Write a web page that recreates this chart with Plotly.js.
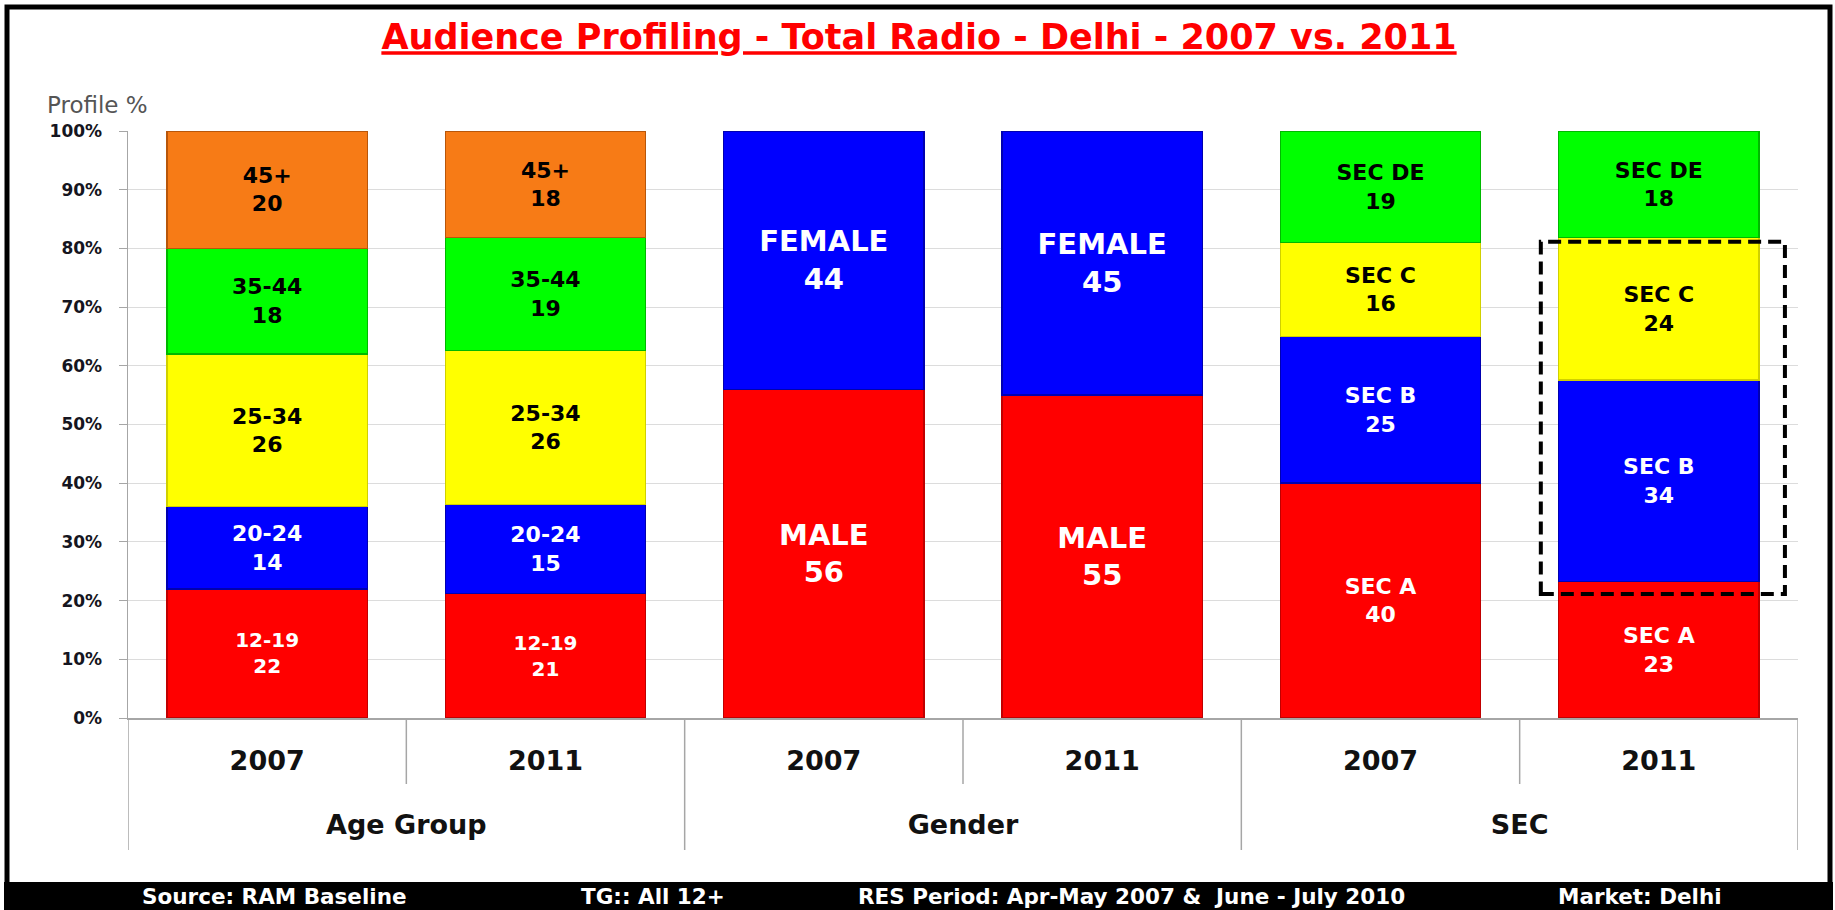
<!DOCTYPE html>
<html>
<head>
<meta charset="utf-8">
<script src="https://cdn.plot.ly/plotly-3.0.1.min.js"></script>
<style>
  html, body { margin: 0; padding: 0; background: #ffffff; }
  #chart { width: 1835px; height: 910px; }
</style>
</head>
<body>
<div id="chart"></div>
<script>
// ---------------- DATA ----------------
const groups = ['Age Group', 'Age Group', 'Gender', 'Gender', 'SEC', 'SEC'];
const years = ['2007', '2011', '2007', '2011', '2007', '2011'];

const ageBands = ['12-19', '20-24', '25-34', '35-44', '45+'];
const age2007 = [22, 14, 26, 18, 20];
const age2011 = [21, 15, 26, 19, 18];

const genderBands = ['MALE', 'FEMALE'];
const gender2007 = [56, 44];
const gender2011 = [55, 45];

const secBands = ['SEC A', 'SEC B', 'SEC C', 'SEC DE'];
const sec2007 = [40, 25, 16, 19];
const sec2011 = [23, 34, 24, 18];

const yTickValues = [0, 10, 20, 30, 40, 50, 60, 70, 80, 90, 100];
const yTickLabels = ['0%', '10%', '20%', '30%', '40%', '50%', '60%', '70%', '80%', '90%', '100%'];

const titleText = 'Audience Profiling - Total Radio - Delhi - 2007 vs. 2011';
const yTitleText = 'Profile %';
const footerTexts = ['Source: RAM Baseline', 'TG:: All 12+', 'RES Period: Apr-May 2007 &  June - July 2010', 'Market: Delhi'];

// ---------------- STYLE / GEOMETRY ----------------
const W = 1835, H = 910;
const M = { l: 128, r: 37, t: 131, b: 192 };
const PW = W - M.l - M.r, PH = H - M.t - M.b;
const px2x = px => (px - M.l) / PW;
const px2y = py => (H - M.b - py) / PH;

const layerColors = ['#FF0000', '#0000FF', '#FFFF00', '#00FF00', '#F77B16'];
const layerEdge = ['#C00000', '#0000B0', '#D0D000', '#00B800', '#B8560A'];
const layerText = ['#FFFFFF', '#FFFFFF', '#000000', '#000000', '#000000'];
const axisGray = '#a6a6a6';

const columns = [
  { bands: ageBands, vals: age2007, size: 22 },
  { bands: ageBands, vals: age2011, size: 22 },
  { bands: genderBands, vals: gender2007, size: 29 },
  { bands: genderBands, vals: gender2011, size: 29 },
  { bands: secBands, vals: sec2007, size: 22 },
  { bands: secBands, vals: sec2011, size: 22 }
];
const nCats = columns.length;
const nLayers = Math.max(...columns.map(c => c.vals.length));
const catIndex = years.map((_, i) => i);

// group centres and boundaries derived from the category arrays
const groupNames = [];
const groupCenters = [];
const groupBounds = [-0.5];
groups.forEach(g => {
  if (groupNames.indexOf(g) === -1) {
    groupNames.push(g);
    const idx = catIndex.filter(j => groups[j] === g);
    groupCenters.push(idx.reduce((a, b) => a + b, 0) / idx.length);
    groupBounds.push(idx[idx.length - 1] + 0.5);
  }
});
const innerBounds = [];
for (let i = 0; i < nCats - 1; i++) {
  if (groups[i] === groups[i + 1]) innerBounds.push(i + 0.5);
}

const traces = [];
for (let k = 0; k < nLayers; k++) {
  const yv = columns.map(c => (k < c.vals.length ? c.vals[k] : null));
  const tx = columns.map(c => (k < c.bands.length ? c.bands[k] : ''));
  const sizes = columns.map(c => (k === 0 && c.bands === ageBands ? 20 : c.size));
  traces.push({
    type: 'bar',
    x: catIndex,
    y: yv,
    text: tx,
    customdata: yv,
    texttemplate: '%{text}<br>%{customdata}',
    textposition: 'inside',
    insidetextanchor: 'middle',
    textangle: 0,
    constraintext: 'none',
    textfont: { family: 'DejaVu Sans', size: sizes, color: layerText[k], weight: 'bold' },
    marker: { color: layerColors[k], line: { color: layerEdge[k], width: 1.5 } },
    hoverinfo: 'skip',
    showlegend: false
  });
}
// carrier trace for the outer (group) category axis: draws nothing
traces.push({
  type: 'scatter', mode: 'none', x: groupCenters, y: groupCenters.map(() => 0),
  xaxis: 'x2', yaxis: 'y', hoverinfo: 'skip', showlegend: false
});

const shapes = [];
// inner (year) separators and group dividers
innerBounds.forEach(b => {
  shapes.push({ type: 'line', xref: 'x', yref: 'paper', x0: b, x1: b,
    y0: 0, y1: px2y(784), line: { color: axisGray, width: 1.5 } });
});
groupBounds.forEach(b => {
  shapes.push({ type: 'line', xref: 'x', yref: 'paper', x0: b, x1: b,
    y0: 0, y1: px2y(850), line: { color: axisGray, width: 1.5 } });
});

// highlight box around SEC 2011 B+C
const secSum = sec2011.reduce((a, b) => a + b, 0);
const boxTop = (sec2011[0] + sec2011[1] + sec2011[2]) / secSum * 100 - 0.7;
const boxBottom = sec2011[0] / secSum * 100 - 2.1;
shapes.push({ type: 'rect', xref: 'x', yref: 'y', x0: 4.576, x1: 5.453,
  y0: boxBottom, y1: boxTop, line: { color: '#000000', width: 4, dash: '13px,7px' }, fillcolor: 'rgba(0,0,0,0)' });

// footer band and outer frame
shapes.push({ type: 'rect', xref: 'paper', yref: 'paper', x0: px2x(4), x1: px2x(1833),
  y0: px2y(882), y1: px2y(912), fillcolor: '#000000', line: { width: 0 } });
shapes.push({ type: 'rect', xref: 'paper', yref: 'paper', x0: px2x(7), x1: px2x(1830),
  y0: px2y(908), y1: px2y(7), line: { color: '#000000', width: 5 }, fillcolor: 'rgba(0,0,0,0)' });

const footerCenters = [274, 653, 1131, 1640];
const annotations = footerTexts.map((t, i) => ({
  text: t, xref: 'paper', yref: 'paper', x: px2x(footerCenters[i]), y: px2y(896),
  xanchor: 'center', yanchor: 'middle', showarrow: false,
  font: { family: 'DejaVu Sans', size: 21.5, color: '#FFFFFF', weight: 'bold' }
}));
annotations.push({
  text: yTitleText, xref: 'paper', yref: 'paper', x: px2x(45), y: px2y(105),
  xanchor: 'left', yanchor: 'middle', showarrow: false,
  font: { family: 'DejaVu Sans', size: 23, color: '#555555' }
});

const layout = {
  width: W, height: H,
  margin: M,
  paper_bgcolor: '#ffffff', plot_bgcolor: '#ffffff',
  barmode: 'stack', barnorm: 'percent', bargap: 0.28,
  title: {
    text: '<u>' + titleText + '</u>',
    x: 919 / W, xanchor: 'center', y: 1 - 37 / H, yanchor: 'middle',
    font: { family: 'DejaVu Sans', size: 35, color: '#FF0000', weight: 'bold' }
  },
  xaxis: {
    type: 'linear', range: [-0.5, nCats - 0.5],
    tickvals: catIndex, ticktext: years,
    showgrid: false, zeroline: false,
    showline: true, linecolor: axisGray, linewidth: 1.5,
    ticks: '', ticklabelstandoff: 18,
    tickfont: { family: 'DejaVu Sans', size: 27, color: '#111111', weight: 'bold' },
    fixedrange: true
  },
  xaxis2: {
    type: 'linear', overlaying: 'x', anchor: 'y', side: 'bottom',
    range: [-0.5, nCats - 0.5],
    tickvals: groupCenters, ticktext: groupNames,
    showgrid: false, zeroline: false, showline: false,
    ticks: '', ticklabelstandoff: 88,
    tickfont: { family: 'DejaVu Sans', size: 27, color: '#111111', weight: 'bold' },
    fixedrange: true
  },
  yaxis: {
    range: [0, 100], tickvals: yTickValues, ticktext: yTickLabels,
    showgrid: true, gridcolor: '#dcdcdc', gridwidth: 1,
    zeroline: false, showline: true, linecolor: axisGray, linewidth: 1.5,
    ticks: 'outside', ticklen: 8, tickcolor: axisGray, ticklabelstandoff: 13,
    tickfont: { family: 'DejaVu Sans', size: 17, color: '#151520', weight: 'bold' },
    fixedrange: true
  },
  shapes: shapes,
  annotations: annotations
};

Plotly.newPlot('chart', traces, layout, { displayModeBar: false, staticPlot: true });
</script>
</body>
</html>
